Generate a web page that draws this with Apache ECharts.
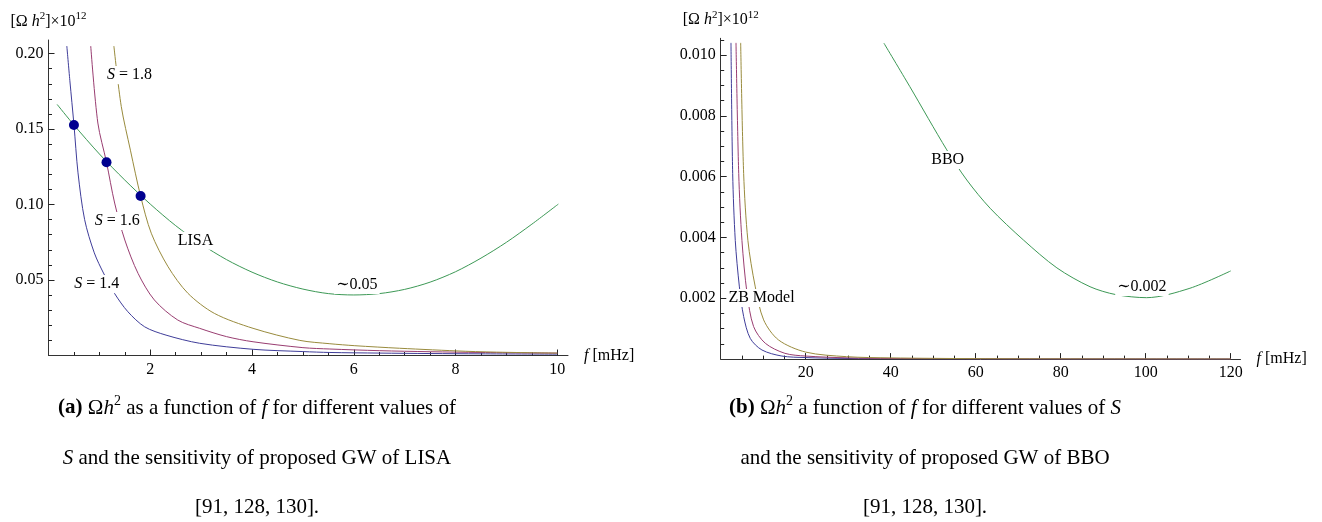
<!DOCTYPE html>
<html><head><meta charset="utf-8">
<script src="https://cdn.jsdelivr.net/npm/echarts@6/dist/echarts.min.js"></script>
<style>html,body{margin:0;padding:0;background:#fff}#c{width:1322px;height:522px}</style>
</head><body><div id="c"></div>
<script>
const FONT = "'Liberation Serif','DejaVu Serif','Times New Roman',serif";

// ---------- Panel (a): LISA, f in mHz ----------
const blueF_a  = [0.36, 0.42, 0.50, 0.58, 0.71, 0.90, 1.09, 1.30, 1.56, 1.89, 2.31, 2.97, 4.02, 5.0, 5.53, 6.5, 7.5, 8.5, 10.0];
const blueV_a  = [0.205, 0.182, 0.153, 0.121, 0.090, 0.068, 0.054, 0.041, 0.029, 0.019, 0.0135, 0.0081, 0.0041, 0.0026, 0.0020, 0.0016, 0.0013, 0.0011, 0.0009];
const magF_a   = [0.83, 0.97, 1.14, 1.30, 1.50, 1.76, 2.08, 2.54, 2.97, 3.5, 4.02, 5.0, 5.53, 6.5, 7.5, 8.5, 10.0];
const magV_a   = [0.205, 0.154, 0.128, 0.101, 0.0765, 0.0544, 0.0368, 0.0235, 0.0180, 0.0125, 0.0091, 0.0052, 0.0043, 0.0032, 0.0025, 0.0020, 0.0016];
const oliveF_a = [1.285, 1.43, 1.61, 1.81, 2.02, 2.35, 2.74, 3.26, 4.02, 4.94, 5.53, 6.02, 6.9, 8.2, 9.0, 10.0];
const oliveV_a = [0.205, 0.165, 0.136, 0.1056, 0.081, 0.0588, 0.0412, 0.0279, 0.0180, 0.0100, 0.0078, 0.0065, 0.0048, 0.0028, 0.0021, 0.0016];
const lisaF    = [0.17, 0.50, 1.0, 1.5, 2.0, 2.5, 3.0, 3.5, 4.0, 4.5, 5.0, 5.5, 6.0, 6.5, 7.0, 7.5, 8.0, 8.5, 9.0, 9.5, 10.02];
const lisaV    = [0.1663, 0.1527, 0.1335, 0.1162, 0.1003, 0.0860, 0.0738, 0.0635, 0.0552, 0.0487, 0.0440, 0.0410, 0.0401, 0.0410, 0.0438, 0.0486, 0.0555, 0.0645, 0.0750, 0.0870, 0.1003];
const dotF     = [0.50, 1.14, 1.81];
const dotV     = [0.1527, 0.128, 0.1056];
const labelTxt_a = ['{i|S} = 1.8', '{i|S} = 1.6', '{i|S} = 1.4', 'LISA', '\u223C0.05'];
const labelF_a   = [1.59, 1.35, 0.95, 2.89, 6.06];
const labelV_a   = [0.1858, 0.0891, 0.0474, 0.076, 0.0467];
const xMajor_a = [2, 4, 6, 8, 10];
const xMinor_a = [0.5, 1, 1.5, 2.5, 3, 3.5, 4.5, 5, 5.5, 6.5, 7, 7.5, 8.5, 9, 9.5];
const yMajor_a = [0.05, 0.10, 0.15, 0.20];
const yMinor_a = [0.01, 0.02, 0.03, 0.04, 0.06, 0.07, 0.08, 0.09, 0.11, 0.12, 0.13, 0.14, 0.16, 0.17, 0.18, 0.19];

// ---------- Panel (b): BBO ----------
const blueF_b  = [2.42, 2.82, 3.43, 4.38, 5.4, 6.96, 9.7, 14.4, 20, 30, 40, 60, 80, 100, 120];
const blueV_b  = [0.0104, 0.0061, 0.0039, 0.0024, 0.0014, 0.00068, 0.0003, 0.0001, 0.00005, 0.00002, 0.00001, 0.000005, 0.000003, 0.000002, 0.000001];
const magF_b   = [3.6, 4.24, 5.0, 6.2, 7.74, 10.5, 15.1, 20, 30, 40, 60, 80, 100, 120];
const magV_b   = [0.0104, 0.0061, 0.0039, 0.00216, 0.00107, 0.00052, 0.00019, 0.0001, 0.00004, 0.00002, 0.00001, 0.000005, 0.000003, 0.000002];
const oliveF_b = [4.7, 5.4, 6.4, 8.1, 10.1, 13.6, 20, 29.6, 40, 60, 80, 100, 120];
const oliveV_b = [0.0104, 0.0061, 0.0039, 0.0024, 0.00129, 0.00063, 0.00023, 0.00008, 0.00004, 0.000015, 0.000008, 0.000005, 0.000003];
const bboF     = [38.4, 44.5, 53.2, 57.9, 63.4, 71.2, 79.1, 86.9, 93.0, 100.2, 110.4, 120];
const bboV     = [0.01039, 0.00896, 0.00688, 0.00589, 0.00496, 0.00392, 0.0030, 0.00238, 0.00212, 0.00202, 0.00233, 0.0029];
const labelTxt_b = ['ZB Model', 'BBO', '\u223C0.002'];
const labelF_b   = [9.6, 53.4, 99.1];
const labelV_b   = [0.00201, 0.00655, 0.00237];
const xMajor_b = [20, 40, 60, 80, 100, 120];
const xMinor_b = [5, 10, 15, 25, 30, 35, 45, 50, 55, 65, 70, 75, 85, 90, 95, 105, 110, 115];
const yMajor_b = [0.002, 0.004, 0.006, 0.008, 0.010];
const yMinor_b = [0.0005, 0.001, 0.0015, 0.0025, 0.003, 0.0035, 0.0045, 0.005, 0.0055, 0.0065, 0.007, 0.0075, 0.0085, 0.009, 0.0095, 0.0105];

const C_BLUE = '#3f3d99', C_MAG = '#993d71', C_OLIVE = '#998b3d', C_GREEN = '#3d9956', C_DOT = '#00008f';
const TXT = '#000';

const pairs = (f, v) => f.map((x, i) => [x, v[i]]);
const richBase = (fs) => ({
  i: {fontStyle: 'italic', fontFamily: FONT, fontSize: fs, color: TXT},
  b: {fontWeight: 'bold', fontFamily: FONT, fontSize: fs, color: TXT},
  sup: {fontSize: Math.round(fs * 0.66), fontFamily: FONT, verticalAlign: 'top', lineHeight: Math.round(fs * 0.66), color: TXT}
});

function axesFor(grid, xmin, xmax, ymin, ymax, xMaj, xMin, yMaj, yMin, yDec) {
  const common = {type: 'value', gridIndex: grid, splitLine: {show: false}};
  const xs = [
    Object.assign({}, common, {
      min: xmin, max: xmax, position: 'bottom',
      axisLine: {show: true, onZero: false, lineStyle: {color: '#333', width: 1}},
      axisTick: {show: true, inside: true, length: 6, customValues: xMaj, lineStyle: {color: '#222'}},
      axisLabel: {show: true, customValues: xMaj, margin: 6, color: TXT, fontFamily: FONT, fontSize: 16,
        formatter: v => String(Math.round(v))},
      name: '{i|f} [mHz]', nameLocation: 'end', nameGap: 16,
      nameTextStyle: {fontFamily: FONT, fontSize: 16, color: TXT, rich: richBase(16)}
    }),
    Object.assign({}, common, {
      min: xmin, max: xmax, position: 'bottom',
      axisLine: {show: false},
      axisTick: {show: true, inside: true, length: 3.5, customValues: xMin, lineStyle: {color: '#222'}},
      axisLabel: {show: false}
    })
  ];
  const ys = [
    Object.assign({}, common, {
      min: ymin, max: ymax, position: 'left',
      axisLine: {show: true, onZero: false, lineStyle: {color: '#333', width: 1}},
      axisTick: {show: true, inside: true, length: 6, customValues: yMaj, lineStyle: {color: '#222'}},
      axisLabel: {show: true, customValues: yMaj, margin: 5, color: TXT, fontFamily: FONT, fontSize: 16,
        formatter: v => v.toFixed(yDec)},
      name: '[\u03A9 {i|h}{sup|2}]\u00D710{sup|12}', nameLocation: 'end', nameGap: 8,
      nameTextStyle: {fontFamily: FONT, fontSize: 16, color: TXT, lineHeight: 21, rich: richBase(16)}
    }),
    Object.assign({}, common, {
      min: ymin, max: ymax, position: 'left',
      axisLine: {show: false},
      axisTick: {show: true, inside: true, length: 3.5, customValues: yMin, lineStyle: {color: '#222'}},
      axisLabel: {show: false}
    })
  ];
  return {xs, ys};
}

const A = axesFor(0, 0, 10.21, 0, 0.209, xMajor_a, xMinor_a, yMajor_a, yMinor_a, 2);
const B = axesFor(1, 0, 122.3, 0, 0.01055, xMajor_b, xMinor_b, yMajor_b, yMinor_b, 3);

function curve(xi, yi, f, v, color) {
  return {type: 'line', xAxisIndex: xi, yAxisIndex: yi, data: pairs(f, v), showSymbol: false, symbol: 'none',
    smooth: 0.3, lineStyle: {color, width: 1}, z: 2, silent: true};
}
function labels(xi, yi, txt, f, v) {
  return {type: 'scatter', xAxisIndex: xi, yAxisIndex: yi, symbolSize: 0, z: 5, silent: true,
    itemStyle: {opacity: 1},
    data: txt.map((t, i) => ({name: t, value: [f[i], v[i]]})),
    label: {show: true, position: 'inside', formatter: p => p.name, color: TXT, fontFamily: FONT, fontSize: 16,
      backgroundColor: '#fff', padding: [1, 2], opacity: 1, rich: richBase(16)}};
}

const capRich = richBase(21);
capRich.sup = {fontSize: 14, fontFamily: FONT, verticalAlign: 'top', lineHeight: 14, color: TXT};
function cap(x, y, text) {
  return {type: 'text', x, y, silent: true, style: {text, fontFamily: FONT, fontSize: 21, fill: TXT,
    align: 'center', verticalAlign: 'middle', lineHeight: 28, rich: capRich}};
}

const option = {
  backgroundColor: '#fff',
  animation: false,
  grid: [
    {left: 48.5, top: 40, width: 519.5, height: 315.5, containLabel: false},
    {left: 720.7, top: 38.3, width: 519.8, height: 320.8, containLabel: false}
  ],
  xAxis: [...A.xs, ...B.xs.map(a => Object.assign(a, {gridIndex: 1}))],
  yAxis: [...A.ys, ...B.ys.map(a => Object.assign(a, {gridIndex: 1}))],
  series: [
    curve(0, 0, blueF_a, blueV_a, C_BLUE),
    curve(0, 0, magF_a, magV_a, C_MAG),
    curve(0, 0, oliveF_a, oliveV_a, C_OLIVE),
    curve(0, 0, lisaF, lisaV, C_GREEN),
    {type: 'scatter', xAxisIndex: 0, yAxisIndex: 0, data: pairs(dotF, dotV), symbolSize: 10,
      itemStyle: {color: C_DOT, opacity: 1}, z: 4, silent: true},
    labels(0, 0, labelTxt_a, labelF_a, labelV_a),
    curve(2, 2, blueF_b, blueV_b, C_BLUE),
    curve(2, 2, magF_b, magV_b, C_MAG),
    curve(2, 2, oliveF_b, oliveV_b, C_OLIVE),
    curve(2, 2, bboF, bboV, C_GREEN),
    labels(2, 2, labelTxt_b, labelF_b, labelV_b)
  ],
  graphic: [
    cap(257, 408, '{b|(a)} \u03A9{i|h}{sup|2} as a function of {i|f} for different values of'),
    cap(257, 458, '{i|S} and the sensitivity of proposed GW of LISA'),
    cap(257, 507, '[91, 128, 130].'),
    cap(925, 408, '{b|(b)} \u03A9{i|h}{sup|2} a function of {i|f} for different values of {i|S}'),
    cap(925, 458, 'and the sensitivity of proposed GW of BBO'),
    cap(925, 507, '[91, 128, 130].')
  ]
};
const chart = echarts.init(document.getElementById('c'), null, {renderer: 'canvas'});
chart.setOption(option);
</script></body></html>
